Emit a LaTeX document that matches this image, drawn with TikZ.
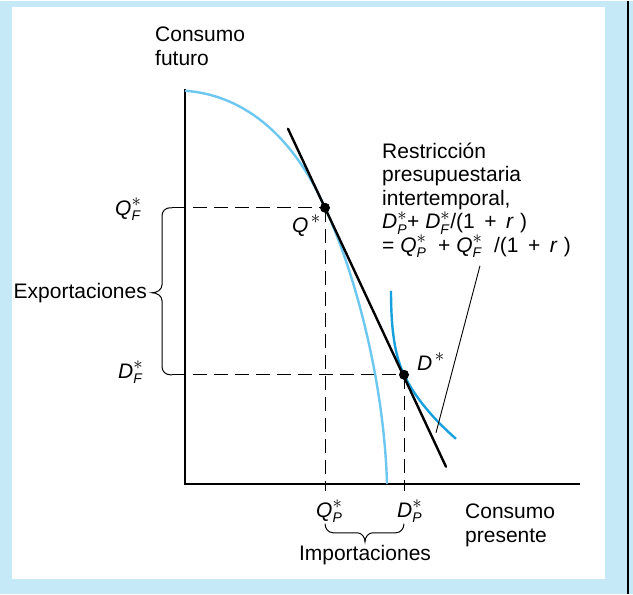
\documentclass[tikz,border=0pt]{standalone}
\usepackage{fontspec}
\setmainfont{Liberation Sans}
\definecolor{bgblue}{RGB}{198,233,248}
\definecolor{ppfblue}{RGB}{108,200,240}
\definecolor{icblue}{RGB}{22,160,222}
\newcommand{\bigstar}{\scalebox{1.3}{$\scriptstyle\ast$}}
\newcommand{\econ}[2]{$\textit{#1}^{\bigstar}_{\mbox{\fontsize{14}{14}\selectfont\itshape #2}}$}
\newcommand{\econs}[1]{$\textit{#1}^{\,\bigstar}$}
\newcommand{\opr}{(1\hspace{0.45em}+\hspace{0.45em}\textit{r}\hspace{0.3em})}
\setlength{\lineskiplimit}{-30pt}
\tikzset{
  lbl/.style={font=\fontsize{21}{23.5}\selectfont, inner sep=0pt, align=left},
  axis/.style={line width=2pt},
  guide/.style={line width=1pt, dash pattern=on 14pt off 7pt},
  bracepath/.style={line width=1pt},
  budget/.style={line width=2.4pt, line cap=round},
  ppf/.style={line width=2.4pt, ppfblue},
  icurve/.style={line width=2.4pt, icblue},
  dot/.style={circle, fill=black, inner sep=0pt, minimum size=10pt}
}
\begin{document}
\begin{tikzpicture}[x=1pt,y=-1pt]
\fill[bgblue] (0,0) rectangle (633,593);
\fill[white] (12,6) rectangle (605,578);
\draw[line width=1.5pt] (628,0) -- (628,593);

% coordinates
\coordinate (ytop) at (185,88);
\coordinate (O) at (185,483);
\coordinate (xend) at (580,483);
\coordinate (Qs) at (325,207);
\coordinate (Ds) at (404,374);
\coordinate (QP) at (325,483);
\coordinate (DP) at (404,483);
\coordinate (QPt) at (325,490);
\coordinate (DPt) at (404,490);
\coordinate (QFl) at (172,207);
\coordinate (DFl) at (172,374);
\coordinate (bl1) at (288,128);
\coordinate (bl2) at (446,466);
\coordinate (ptr1) at (480,265);
\coordinate (ptr2) at (436,432);

% axes
\draw[axis] (ytop) -- (O) -- (xend);

% dashed guides
\draw[guide] (QFl) -- (Qs);
\draw[guide] (DFl) -- (Ds);
\draw[guide] (Qs) -- (QP);
\draw[guide] (Ds) -- (DP);
\draw[line width=1pt] (QP) -- (QPt);
\draw[line width=1pt] (DP) -- (DPt);

% curves
\draw[ppf] (185,90) .. controls (255,95) and (300,150) .. (Qs)
  .. controls (355,272) and (384,380) .. (387,483);
\draw[icurve] (391,290) .. controls (391,330) and (395,355) .. (Ds)
  .. controls (415,397) and (435,420) .. (456,438);
\draw[budget] (bl1) -- (bl2);
\draw[line width=0.9pt] (ptr1) -- (ptr2);

\node[dot] (Qdot) at (Qs) {};
\node[dot] (Ddot) at (Ds) {};

% braces
\draw[bracepath] (QFl) -- (170,207) to[out=180,in=90] (162,215) -- (162,284)
  to[out=-90,in=0] (152,292) to[out=0,in=90] (162,300) -- (162,366)
  to[out=-90,in=180] (170,374) -- (DFl);
\draw[bracepath] (325,523) to[out=-90,in=180] (333,532) -- (357,532)
  to[out=0,in=90] (365,541) to[out=90,in=180] (373,532) -- (396,532)
  to[out=0,in=-90] (404,523);

% labels
\node[lbl, anchor=north west] (cf) at (155,26) {Consumo\\futuro};
\node[lbl, anchor=north west] (cp) at (465,503) {Consumo\\presente};
\node[lbl, anchor=base east] (exp) at (147,298) {Exportaciones};
\node[lbl, anchor=base] (imp) at (365,560) {Importaciones};
\node[lbl, anchor=base west] (lQF) at (115,215) {\econ{Q}{F}};
\node[lbl, anchor=base west] (lDF) at (118,378) {\econ{D}{F}};
\node[lbl, anchor=base west] (lQ) at (292,232) {\econs{Q}};
\node[lbl, anchor=base west] (lD) at (417,370) {\econs{D}};
\node[lbl, anchor=base west] (lQP) at (316,517) {\econ{Q}{P}};
\node[lbl, anchor=base west] (lDP) at (397,517) {\econ{D}{P}};
\node[lbl, anchor=north west] (txt) at (382,142) {Restricción\\presupuestaria\\intertemporal,\\\econ{D}{P}+ \econ{D}{F}/\opr\\= \econ{Q}{P}\ \ + \econ{Q}{F}\ \ /\opr};
\end{tikzpicture}
\end{document}
